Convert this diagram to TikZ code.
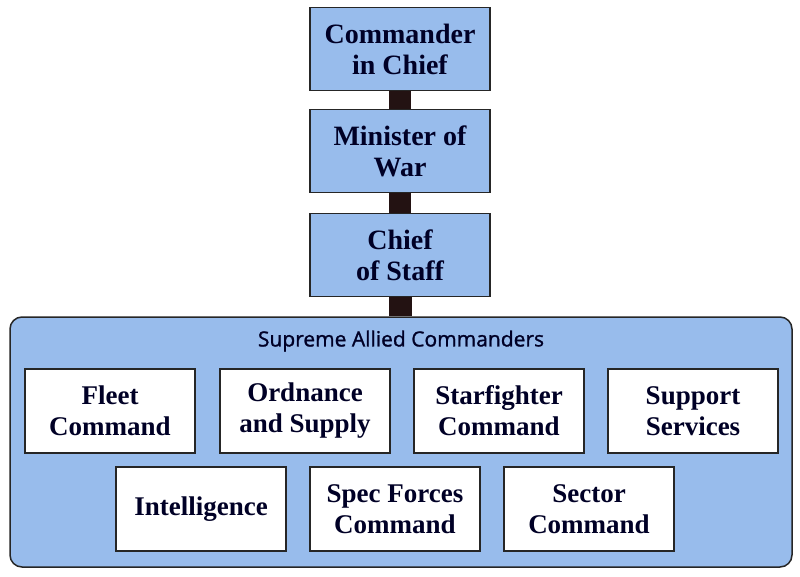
\documentclass[tikz,border=0pt]{standalone}
\usepackage{fontspec}
\setmainfont{Liberation Serif}
\newfontfamily\titlefont[FakeBold=1.2]{Open Sans}
\definecolor{boxblue}{RGB}{152,188,236}
\definecolor{barcol}{RGB}{35,18,18}
\begin{document}
\begin{tikzpicture}[x=1pt,y=-1pt,
  topbox/.style={draw=black!85,line width=1.2pt,fill=boxblue,minimum width=180pt,minimum height=83pt,align=center,font=\fontsize{28}{31}\selectfont\bfseries,text=black!85!blue,inner sep=0pt},
  subbox/.style={draw=black!85,line width=1.2pt,fill=white,minimum width=170pt,minimum height=84pt,align=center,font=\fontsize{27}{31}\selectfont\bfseries,text=black!85!blue,inner sep=0pt},
  bar/.style={draw=none,fill=barcol}]
\useasboundingbox (0,0) rectangle (800,576);
\fill[white] (0,0) rectangle (800,576);
\node[draw=black!85,line width=1.5pt,fill=boxblue,rounded corners=12pt,minimum width=782pt,minimum height=250pt,inner sep=0pt] (sac) at (401,442) {};
\node[font=\titlefont\fontsize{21}{24}\selectfont,text=black!85!blue] (title) at (401,341) {Supreme Allied Commanders};
\node[topbox] (cic) at (400,49) {Commander\\in Chief};
\node[topbox] (mow) at (400,151) {Minister of\\War};
\node[topbox] (cos) at (400,255) {Chief\\of Staff};
\fill[barcol] ([xshift=-11pt]cic.south) rectangle ([xshift=11pt]mow.north);
\fill[barcol] ([xshift=-11pt]mow.south) rectangle ([xshift=11pt]cos.north);
\fill[barcol] ([xshift=-11pt]cos.south) rectangle ([xshift=11pt]sac.north);
\node[subbox] (fc) at (110,411) {Fleet\\Command};
\node[subbox] (os) at (305,411) {Ordnance\\and Supply};
\node[subbox] (sc) at (499,411) {Starfighter\\Command};
\node[subbox] (ss) at (693,411) {Support\\Services};
\node[subbox] (in) at (201,509) {Intelligence};
\node[subbox] (sf) at (395,509) {Spec Forces\\Command};
\node[subbox] (sec) at (589,509) {Sector\\Command};
\end{tikzpicture}
\end{document}
